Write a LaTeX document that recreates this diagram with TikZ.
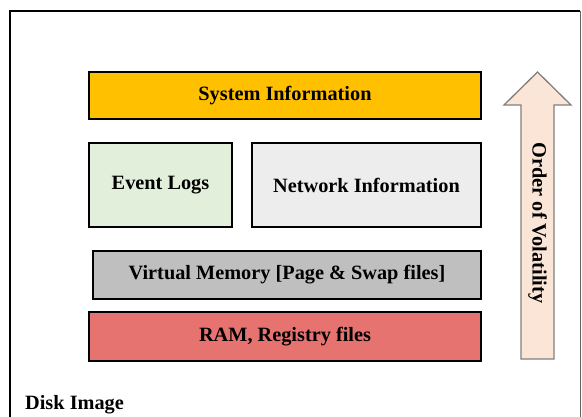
\documentclass[tikz,border=0pt]{standalone}
\usepackage{fontspec}
\setmainfont{Liberation Serif}
\definecolor{sysorange}{HTML}{FFC000}
\definecolor{evgreen}{HTML}{E2EFDA}
\definecolor{netgray}{HTML}{EDEDED}
\definecolor{vmgray}{HTML}{BFBFBF}
\definecolor{ramred}{HTML}{E6736F}
\definecolor{arrowfill}{HTML}{FBE5D6}
\definecolor{arrowline}{HTML}{808080}
\begin{document}
\begin{tikzpicture}[x=1pt,y=-1pt,
  layer/.style={draw=black,line width=1.6pt,inner sep=0pt,align=center,
    font=\fontsize{20.3}{24}\selectfont\bfseries},
  lbl/.style={font=\fontsize{20.3}{24}\selectfont\bfseries,inner sep=0pt}]
\useasboundingbox (0,0) rectangle (582,416);
\fill[white] (0,0) rectangle (582,416);
\draw[line width=2pt] (10,420) -- (10,11) -- (580,11);
\draw[line width=1pt,black!60] (580,11) -- (580,420);
\node[layer,fill=sysorange,minimum width=392pt,minimum height=47pt] (sys) at (285,95.5) {System Information};
\node[layer,fill=evgreen,minimum width=143pt,minimum height=84pt] (ev) at (160.5,185) {Event Logs};
\node[layer,fill=netgray,minimum width=229pt,minimum height=84pt] (net) at (366.5,185) {Network Information};
\node[layer,fill=vmgray,minimum width=388pt,minimum height=48pt] (vm) at (287,275) {Virtual Memory [Page \& Swap files]};
\node[layer,fill=ramred,minimum width=392pt,minimum height=49pt] (ram) at (285,336.5) {RAM, Registry files};
\draw[draw=arrowline,fill=arrowfill,line width=1.3pt,line join=miter]
  (521,359) -- (521,105) -- (504,105) -- (537.5,72) -- (571,105) -- (554,105) -- (554,359) -- cycle;
\node[lbl,rotate=-90] (vol) at (537.5,223) {Order of Volatility};
\node[lbl,anchor=base west] (disk) at (25,409) {Disk Image};
\end{tikzpicture}
\end{document}
